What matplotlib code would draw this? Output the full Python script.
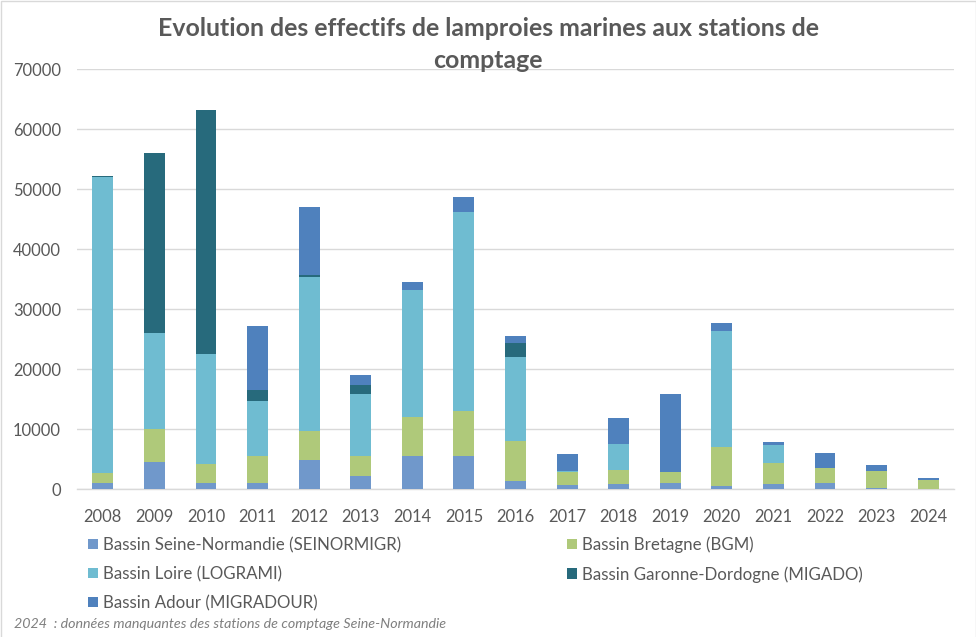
import matplotlib.pyplot as plt
import matplotlib.patches as patches
import numpy as np

years = [str(y) for y in range(2008, 2025)]

seine = [1000, 4500, 1000, 1000, 4830, 2170, 5500, 5500, 1330, 670, 830, 1000, 500, 830, 1000, 170, 0]
bretagne = [1700, 5500, 3200, 4500, 4830, 3330, 6500, 7500, 6670, 2170, 2330, 1830, 6500, 3500, 2500, 2830, 1500]
loire = [49300, 16000, 18300, 9170, 25670, 10330, 21170, 33170, 14000, 170, 4330, 0, 19330, 3000, 0, 0, 0]
garonne = [200, 30000, 40670, 1830, 330, 1500, 0, 0, 2330, 0, 0, 0, 0, 0, 0, 0, 0]
adour = [0, 0, 0, 10670, 11330, 1670, 1330, 2500, 1170, 2830, 4330, 13000, 1330, 500, 2500, 1000, 330]

names = ['Bassin Seine-Normandie (SEINORMIGR)', 'Bassin Bretagne (BGM)', 'Bassin Loire (LOGRAMI)',
         'Bassin Garonne-Dordogne (MIGADO)', 'Bassin Adour (MIGRADOUR)']
colors = ['#7098CB', '#AFC97A', '#6FBCD1', '#276A7C', '#4F81BD']
series = [seine, bretagne, loire, garonne, adour]

TXT = '#595959'
GRID = '#D9D9D9'
W, H = 976, 637

plt.rcParams['font.family'] = ['Lato', 'DejaVu Sans']

fig = plt.figure(figsize=(W / 100, H / 100), dpi=100)
ax = fig.add_axes([77 / W, 1 - 489 / H, 877 / W, 420 / H])

# Barres empilees
x = np.arange(len(years))
bottom = np.zeros(len(years))
bars = []
for vals, name, col in zip(series, names, colors):
    bars.append(ax.bar(x, vals, 0.405, bottom=bottom, color=col, label=name, zorder=3))
    bottom += np.array(vals)

ax.set_xlim(-0.5, len(years) - 0.5)
ax.set_ylim(0, 70000)
ax.set_yticks(range(0, 70001, 10000))
ax.set_xticks(x, years)
ax.grid(axis='y', color=GRID, lw=1.0, zorder=0)
ax.tick_params(length=0, labelsize=11.9, colors=TXT)
ax.tick_params(axis='x', pad=14.3)
ax.tick_params(axis='y', pad=11.5)
for s in ['top', 'left', 'right']:
    ax.spines[s].set_visible(False)
ax.spines['bottom'].set_color(GRID)
ax.spines['bottom'].set_linewidth(1.0)

fig.text(488 / W, 1 - 28 / H, 'Evolution des effectifs de lamproies marines aux stations de',
         ha='center', va='center', fontsize=17.9, fontweight='bold', color=TXT)
fig.text(488 / W, 1 - 60 / H, 'comptage', ha='center', va='center',
         fontsize=17.9, fontweight='bold', color=TXT)

# Legende, remplie par colonnes donc ordre change
order = [0, 2, 4, 1, 3]
fig.legend([bars[i] for i in order], [names[i] for i in order], ncol=2,
           loc='upper left', bbox_to_anchor=(88 / W, 1 - 536.5 / H), frameon=False,
           fontsize=12.2, labelcolor=TXT, handlelength=0.6, handleheight=0.6,
           handletextpad=0.3, labelspacing=0.76, columnspacing=9.75,
           borderpad=0, borderaxespad=0)

fig.text(14 / W, 1 - 624 / H, '2024  : données manquantes des stations de comptage Seine-Normandie',
         ha='left', va='center', fontsize=10.3, style='italic', color='#7F7F7F',
         bbox=dict(fc='white', ec='none', pad=5), zorder=10)

# Cadre du graphique
fig.add_artist(patches.Rectangle((0.5 / W, -0.01), (W - 1) / W, 1.01 - 0.5 / H, fill=False,
                                 ec=GRID, lw=1.0, transform=fig.transFigure))

fig.savefig('out.png', dpi=100)
plt.close(fig)
